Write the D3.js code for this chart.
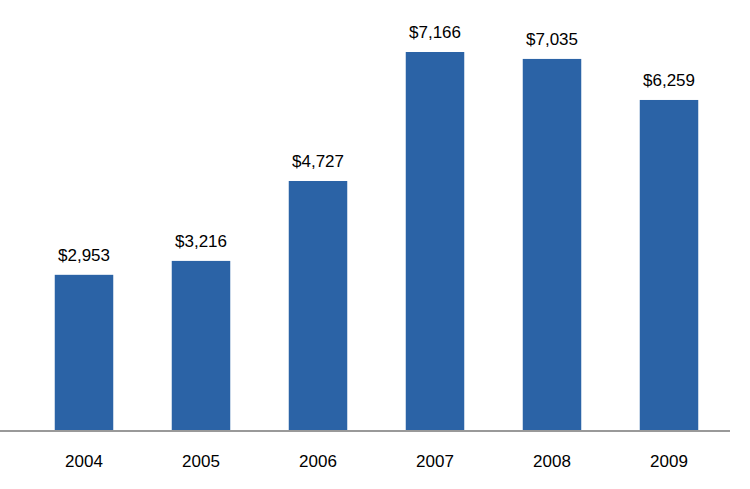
<!DOCTYPE html>
<html>
<head>
<meta charset="utf-8">
<script src="https://cdn.jsdelivr.net/npm/d3@7"></script>
<style>
  body { margin: 0; background: #fff; }
  text { font-family: "Liberation Sans", Arial, sans-serif; }
</style>
</head>
<body>
<div id="chart"></div>
<script>
const years = ["2004", "2005", "2006", "2007", "2008", "2009"]
const values = [2953, 3216, 4727, 7166, 7035, 6259]

const width = 750, height = 489
const baseline = 431

const svg = d3.select("#chart").append("svg")
   .attr("width", width)
   .attr("height", height)

let x = d3.scaleBand()
   .domain(years)
   .range([25.5, 727.5])
   .paddingInner(0.5)
   .paddingOuter(0.25)

let y = d3.scaleLinear()
   .domain([0, 7166])
   .range([baseline, 52])

// Bars
svg.selectAll("rect.bar").data(values)
   .join("rect")
   .attr("class", "bar")
   .attr("x", (d, i) => x(years[i]))
   .attr("y", d => y(d))
   .attr("width", x.bandwidth())
   .attr("height", d => baseline - y(d))
   .attr("fill", "#2B63A6")

// Value labels
svg.selectAll("text.value").data(values)
   .join("text")
   .attr("class", "value")
   .attr("x", (d, i) => x(years[i]) + x.bandwidth() / 2)
   .attr("y", d => y(d) - 14)
   .attr("text-anchor", "middle")
   .attr("font-size", 17)
   .attr("fill", "#000")
   .text(d => "$" + d3.format(",")(d))

// Axis
let xAxis = d3.axisBottom(x).tickSize(0).tickPadding(24)
let axisG = svg.append("g")
   .attr("transform", "translate(0," + baseline + ")")
   .call(xAxis)
axisG.select(".domain").remove()
axisG.selectAll("text").attr("font-size", 17).attr("fill", "#000")
   .style("font-family", "'Liberation Sans', Arial, sans-serif")

svg.append("line")
   .attr("x1", 0).attr("x2", 730)
   .attr("y1", baseline).attr("y2", baseline)
   .attr("stroke", "#999")
   .attr("stroke-width", 2)
</script>
</body>
</html>
